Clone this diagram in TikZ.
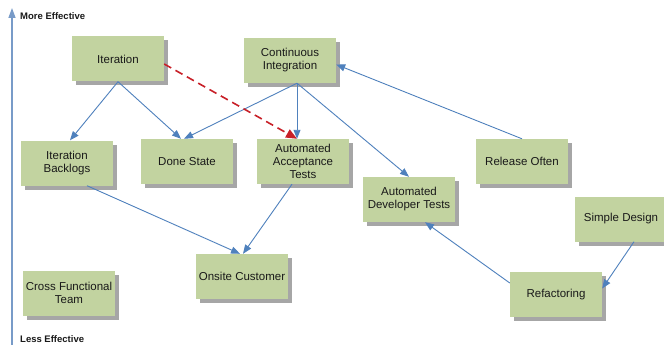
\documentclass[tikz,border=0pt]{standalone}
\usepackage{fontspec}
\setmainfont{Liberation Sans}
\usetikzlibrary{arrows.meta,shadows}
\definecolor{boxgreen}{RGB}{194,211,160}
\definecolor{shadowgray}{RGB}{166,166,166}
\definecolor{linkblue}{RGB}{79,129,189}
\definecolor{axisblue}{RGB}{120,155,200}
\definecolor{dashred}{RGB}{200,32,40}
\definecolor{txt}{RGB}{25,25,25}
\begin{document}
\begin{tikzpicture}[x=1pt,y=-1pt,
  box/.style={fill=boxgreen, minimum width=92pt, minimum height=45pt, inner sep=1pt,
    align=center, text=txt, font=\fontsize{11.5}{13}\selectfont,
    drop shadow={shadow xshift=4pt, shadow yshift=-4pt, fill=shadowgray, opacity=1}},
  link/.style={draw=linkblue, line width=0.9pt, -{Triangle[length=9pt,width=7pt]}},
  redlink/.style={draw=dashred, line width=1.6pt, dash pattern=on 8pt off 5pt,
    -{Triangle[length=11pt,width=9pt]}},
  axislbl/.style={anchor=west, font=\fontsize{9.5}{11}\bfseries\selectfont, text=txt, inner sep=0pt}]
\useasboundingbox (0,0) rectangle (664,345);
\fill[white] (0,0) rectangle (664,345);

% axis
\coordinate (axbot) at (12,350);
\coordinate (axtop) at (12,8);
\draw[draw=axisblue, line width=1.3pt, -{Triangle[length=10pt,width=7pt]}] (axbot) -- (axtop);
\node[axislbl] (more) at (20,16) {More Effective};
\node[axislbl] (less) at (20,339) {Less Effective};

% nodes
\node[box] (it)  at (118,59)    {Iteration};
\node[box] (ci)  at (290,60.5)  {Continuous\\Integration};
\node[box] (bl)  at (67,163)    {Iteration\\Backlogs};
\node[box] (ds)  at (187,161.5) {Done State};
\node[box] (aat) at (303,161.5) {Automated\\Acceptance\\Tests};
\node[box] (adt) at (409,199.5) {Automated\\Developer Tests};
\node[box] (ro)  at (522,161.5) {Release Often};
\node[box] (sd)  at (621,219)   {Simple Design};
\node[box] (oc)  at (242,276.5) {Onsite Customer};
\node[box] (cft) at (69,293)    {Cross Functional\\Team};
\node[box] (rf)  at (556,294.5) {Refactoring};

% connectors
\draw[link] (it.south) -- ([xshift=3pt]bl.north);
\draw[link] (it.south) -- ([xshift=-6pt]ds.north);
\draw[link] ([xshift=7pt]ci.south) -- ([xshift=-3pt]ds.north);
\draw[link] ([xshift=7pt]ci.south) -- ([xshift=-6pt]aat.north);
\draw[link] ([xshift=7pt]ci.south) -- (adt.north);
\draw[link] (ro.north) -- ([yshift=-4pt]ci.east);
\draw[link] ([xshift=20pt]bl.south) -- ([xshift=-2pt]oc.north);
\draw[link] ([xshift=-11pt]aat.south) -- ([xshift=1pt]oc.north);
\draw[link] ([yshift=11.5pt]rf.west) -- ([xshift=16pt]adt.south);
\draw[link] ([xshift=13pt]sd.south) -- ([yshift=6pt]rf.east);
\draw[redlink] ([yshift=-5pt]it.east) -- ([xshift=-6pt]aat.north);
\end{tikzpicture}
\end{document}
